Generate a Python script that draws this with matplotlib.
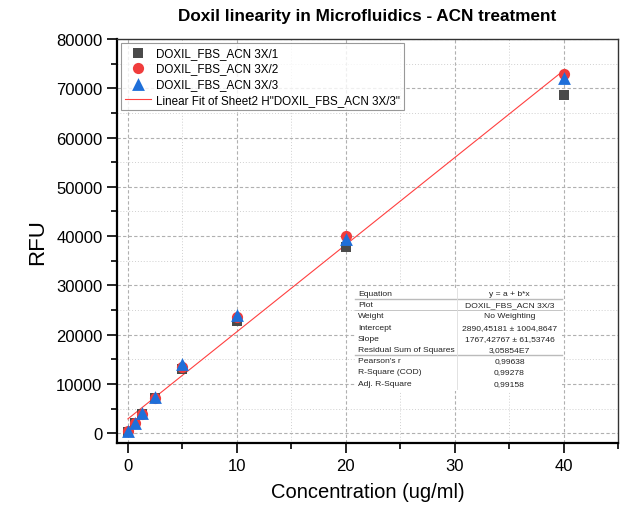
import matplotlib
matplotlib.use("Agg")
import matplotlib.pyplot as plt
import numpy as np
from matplotlib.ticker import MultipleLocator

plt.rcParams['font.family'] = ['Liberation Sans', 'DejaVu Sans']

conc = [0, 0.625, 1.25, 2.5, 5, 10, 20, 40]
s1 = [300, 2000, 3900, 7100, 13000, 22800, 37700, 68600]
s2 = [400, 2100, 3900, 7200, 13400, 23600, 40100, 72900]
s3 = [500, 2100, 4100, 7400, 14000, 24000, 39500, 72100]
labels = ["DOXIL_FBS_ACN 3X/1", "DOXIL_FBS_ACN 3X/2", "DOXIL_FBS_ACN 3X/3",
          'Linear Fit of Sheet2 H"DOXIL_FBS_ACN 3X/3"']
intercept = 2890.45181
slope = 1767.42767
fit_range = [0, 40]

table_rows = [
    ("Equation", "y = a + b*x"),
    ("Plot", "DOXIL_FBS_ACN 3X/3"),
    ("Weight", "No Weighting"),
    ("Intercept", "2890,45181 \u00b1 1004,8647"),
    ("Slope", "1767,42767 \u00b1 61,53746"),
    ("Residual Sum of Squares", "3,05854E7"),
    ("Pearson's r", "0,99638"),
    ("R-Square (COD)", "0,99278"),
    ("Adj. R-Square", "0,99158"),
]

fig = plt.figure(figsize=(6.2, 5.06), dpi=100)
ax = fig.add_axes([117/620, 1-444/506, 501/620, 404/506])

ax.set_xlim(-1, 45)
ax.set_ylim(-2000, 80000)
ax.xaxis.set_major_locator(MultipleLocator(10))
ax.xaxis.set_minor_locator(MultipleLocator(5))
ax.yaxis.set_major_locator(MultipleLocator(10000))
ax.yaxis.set_minor_locator(MultipleLocator(5000))
ax.grid(which='major', color='#b0b0b0', linestyle=(0, (3, 2)), linewidth=0.8)
ax.grid(which='minor', color='#d0d0d0', linestyle=(0, (1, 2)), linewidth=0.7)
ax.set_axisbelow(True)

ax.tick_params(which='major', direction='out', length=7, width=1.2, labelsize=12)
ax.tick_params(which='minor', direction='out', length=4, width=1.2)
ax.tick_params(top=False, right=False)
for side in ['left', 'bottom']:
    ax.spines[side].set_linewidth(1.6)
for side in ['top', 'right']:
    ax.spines[side].set_linewidth(1.0)
    ax.spines[side].set_color('#333333')

xf = np.array(fit_range, dtype=float)
ax.plot(xf, intercept + slope * xf, color='#ff4040', linewidth=0.8, label=labels[3], zorder=2)
ax.scatter(conc, s1, marker='s', s=55, color='#4a4a4a', label=labels[0], zorder=3, linewidths=0)
ax.scatter(conc, s2, marker='o', s=65, color='#f03c3c', label=labels[1], zorder=4, linewidths=0)
ax.scatter(conc, s3, marker='^', s=85, color='#1f6fd9', label=labels[2], zorder=5, linewidths=0)

h, l = ax.get_legend_handles_labels()
order = [1, 2, 3, 0]
leg = ax.legend([h[i] for i in order], [l[i] for i in order], loc='upper left',
                bbox_to_anchor=(0.003, 0.997), fontsize=8.4, frameon=True, fancybox=False,
                edgecolor='#808080', borderpad=0.35, labelspacing=0.32, handlelength=2.2,
                handletextpad=0.5, borderaxespad=0.2)
leg.get_frame().set_linewidth(0.8)

ax.set_title("Doxil linearity in Microfluidics - ACN treatment", fontsize=12.3,
             fontweight='bold', pad=14)
ax.set_ylabel("RFU", fontsize=16, labelpad=6)
ax.set_xlabel("Concentration (ug/ml)", fontsize=14.5, labelpad=7)

# fit result table (figure pixel coordinates)
def fx(px):
    return px / 620
def fy(py):
    return 1 - py / 506
left, mid, right = 355, 457, 562
top = 289
rh = 11.2
bg = plt.Rectangle((fx(left), fy(top + rh * len(table_rows) + 2)), fx(right) - fx(left),
                   fy(top) - fy(top + rh * len(table_rows) + 2), transform=fig.transFigure,
                   facecolor='white', edgecolor='none', zorder=6)
fig.patches.append(bg)
for i, (k, v) in enumerate(table_rows):
    yc = top + rh * (i + 0.5)
    fig.text(fx(left + 3), fy(yc), k, fontsize=6.1, va='center', ha='left', color='#222222', zorder=7)
    fig.text(fx((mid + right) / 2), fy(yc), v, fontsize=6.1, va='center', ha='center', color='#222222', zorder=7)
for idx, lw, col in [(1, 1.0, '#bbbbbb'), (2, 0.6, '#bbbbbb'), (6, 1.0, '#bbbbbb')]:
    yline = top + rh * idx
    fig.add_artist(plt.Line2D([fx(left), fx(right)], [fy(yline), fy(yline)],
                              transform=fig.transFigure, color=col, linewidth=lw, zorder=7))
fig.add_artist(plt.Line2D([fx(mid), fx(mid)], [fy(top), fy(top + rh * len(table_rows))],
                          transform=fig.transFigure, color='#dddddd', linewidth=0.6, zorder=7))

fig.savefig("out.png", dpi=100)
